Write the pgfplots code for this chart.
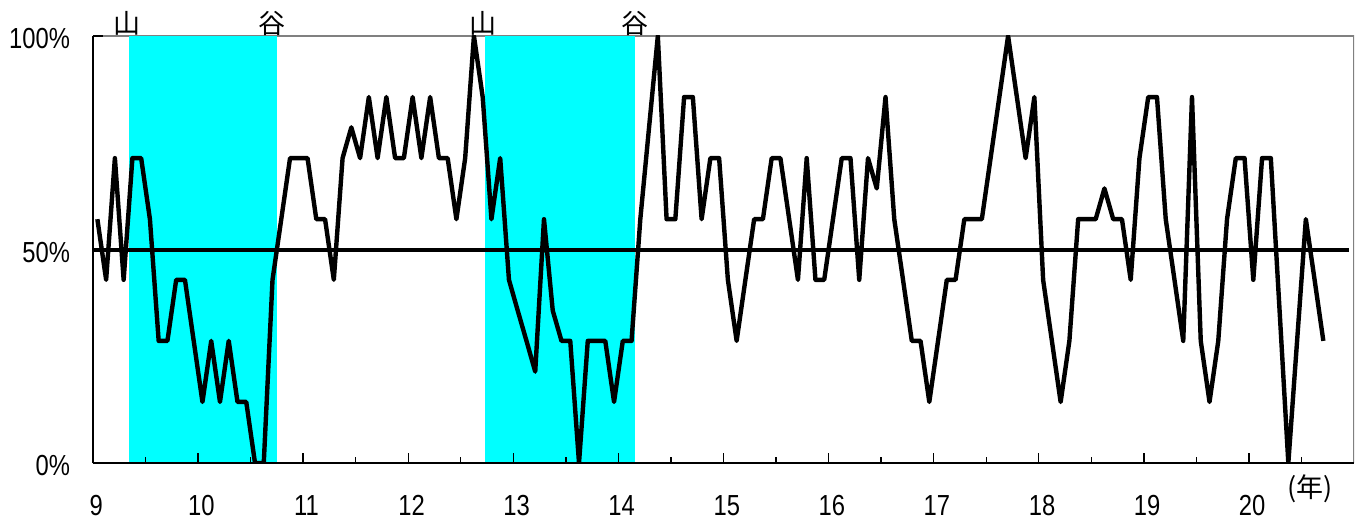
\documentclass[border=0pt]{standalone}
\usepackage{pgfplots}
\pgfplotsset{compat=1.18}
\usepackage{pgfplotstable}
\usepackage{fontspec}
\setmainfont{Liberation Sans}
\newfontfamily\jp{Noto Sans CJK JP}
\definecolor{aqua}{RGB}{0,255,255}

% monthly diffusion index, m = months since Jan H9, v = percent
\pgfplotstableread[row sep=\\]{
m v\\
0 57.1\\ 1 42.9\\ 2 71.4\\ 3 42.9\\ 4 71.4\\ 5 71.4\\ 6 57.1\\ 7 28.6\\ 8 28.6\\ 9 42.9\\ 10 42.9\\ 11 28.6\\
12 14.3\\ 13 28.6\\ 14 14.3\\ 15 28.6\\ 16 14.3\\ 17 14.3\\ 18 0\\ 19 0\\ 20 42.9\\ 21 57.1\\ 22 71.4\\ 23 71.4\\
24 71.4\\ 25 57.1\\ 26 57.1\\ 27 42.9\\ 28 71.4\\ 29 78.6\\ 30 71.4\\ 31 85.7\\ 32 71.4\\ 33 85.7\\ 34 71.4\\ 35 71.4\\
36 85.7\\ 37 71.4\\ 38 85.7\\ 39 71.4\\ 40 71.4\\ 41 57.1\\ 42 71.4\\ 43 100\\ 44 85.7\\ 45 57.1\\ 46 71.4\\ 47 42.9\\
48 35.7\\ 49 28.6\\ 50 21.4\\ 51 57.1\\ 52 35.7\\ 53 28.6\\ 54 28.6\\ 55 0\\ 56 28.6\\ 57 28.6\\ 58 28.6\\ 59 14.3\\
60 28.6\\ 61 28.6\\ 62 57.1\\ 63 78.6\\ 64 100\\ 65 57.1\\ 66 57.1\\ 67 85.7\\ 68 85.7\\ 69 57.1\\ 70 71.4\\ 71 71.4\\
72 42.9\\ 73 28.6\\ 74 42.9\\ 75 57.1\\ 76 57.1\\ 77 71.4\\ 78 71.4\\ 79 57.1\\ 80 42.9\\ 81 71.4\\ 82 42.9\\ 83 42.9\\
84 57.1\\ 85 71.4\\ 86 71.4\\ 87 42.9\\ 88 71.4\\ 89 64.3\\ 90 85.7\\ 91 57.1\\ 92 42.9\\ 93 28.6\\ 94 28.6\\ 95 14.3\\
96 28.6\\ 97 42.9\\ 98 42.9\\ 99 57.1\\ 100 57.1\\ 101 57.1\\ 102 71.4\\ 103 85.7\\ 104 100\\ 105 85.7\\ 106 71.4\\ 107 85.7\\
108 42.9\\ 109 28.6\\ 110 14.3\\ 111 28.6\\ 112 57.1\\ 113 57.1\\ 114 57.1\\ 115 64.3\\ 116 57.1\\ 117 57.1\\ 118 42.9\\ 119 71.4\\
120 85.7\\ 121 85.7\\ 122 57.1\\ 123 42.9\\ 124 28.6\\ 125 85.7\\ 126 28.6\\ 127 14.3\\ 128 28.6\\ 129 57.1\\ 130 71.4\\ 131 71.4\\
132 42.9\\ 133 71.4\\ 134 71.4\\ 135 35.7\\ 136 0\\ 137 28.6\\ 138 57.1\\ 139 42.9\\ 140 28.6\\
}\diffusion

\begin{document}
\begin{tikzpicture}
\path[use as bounding box] (-46.5pt,-31pt) rectangle (635.5pt,231.5pt);
\begin{axis}[
    at={(0,0)}, anchor=south west,
    scale only axis,
    width=630.5pt, height=213.5pt,
    xmin=9, xmax=21,
    ymin=0, ymax=100,
    axis lines*=left,
    axis on top,
    axis line style={black, line width=0.7pt},
    xtick={9,...,20},
    minor xtick={9.5,10.5,...,20.5},
    ytick={0,50,100},
    yticklabels={0\%,50\%,100\%},
    tick align=inside,
    major tick length=5pt,
    minor tick length=3pt,
    tick style={black, line width=0.7pt},
    /pgf/number format/assume math mode=true,
    tick label style={font=\fontsize{14.5}{17}\selectfont, xscale=0.82},
    xticklabel style={xshift=2pt, yshift=-12.5pt},
    yticklabel style={xshift=-10.5pt, yshift=-1.5pt},
]
\draw[gray, line width=0.6pt] (rel axis cs:0,1) -- (rel axis cs:1,1) -- (rel axis cs:1,0);
\fill[aqua] (axis cs:9.343,0) rectangle (axis cs:10.748,100);
\fill[aqua] (axis cs:12.730,0) rectangle (axis cs:14.158,100);
\draw[black, line width=2pt] (axis cs:9,50) -- (axis cs:20.95,50);
\addplot[black, line width=2.2pt, line join=round, no markers]
    table[x expr=9+(\thisrow{m}+0.5)/12, y=v] {\diffusion};
\coordinate (s1) at (axis cs:9.328,100);
\coordinate (t1) at (axis cs:10.708,100);
\coordinate (s2) at (axis cs:12.716,100);
\coordinate (t2) at (axis cs:14.157,100);
\coordinate (ny) at (axis cs:20.58,0);
\end{axis}
\tikzset{jpl/.style={anchor=south, inner sep=0pt, font=\jp\fontsize{13.5}{14}\selectfont}}
\node[jpl] at (s1) {山};
\node[jpl] at (t1) {谷};
\node[jpl] at (s2) {山};
\node[jpl] at (t2) {谷};
\node[inner sep=0pt, font=\jp\fontsize{13.5}{14}\selectfont] at ([yshift=-13pt]ny) {(年)};
\end{tikzpicture}
\end{document}
